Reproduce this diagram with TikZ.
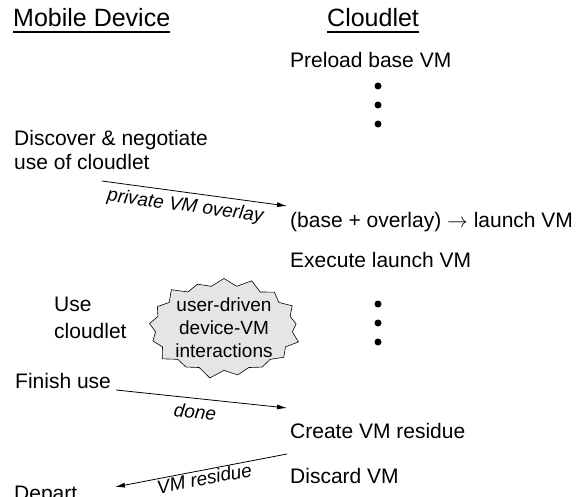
\documentclass[tikz,border=0pt]{standalone}
\usepackage{fontspec}
\setmainfont{Liberation Sans}
\usetikzlibrary{arrows.meta,shapes.symbols}

\begin{document}
\begin{tikzpicture}[x=1pt, y=-1pt,
		>={Latex[length=10pt, width=5pt]},
		head/.style={anchor=base west, inner sep=0pt, font=\fontsize{25}{30}\selectfont},
		txt/.style={anchor=base west, inner sep=0pt, align=left, font=\fontsize{21}{24}\selectfont},
		msg/.style={line width=0.8pt},
		lbl/.style={sloped, inner sep=0pt, font=\fontsize{19}{22}\selectfont\itshape},
		uline/.style={line width=2.2pt},
		burst/.style={starburst, starburst points=17, starburst point height=10pt,
			draw, line width=0.6pt, fill=black!10, inner sep=0pt, align=center,
			font=\fontsize{19}{23}\selectfont}]
		%%%%% START %%%%%
		\useasboundingbox (0, 0) rectangle (583, 497);
		
		\node[head] (md) at (13, 27) {Mobile Device};
		\node[head] (cl) at (327, 27) {Cloudlet};
		\draw[uline] ([yshift=-5pt]md.base west) -- ([yshift=-5pt]md.base east);
		\draw[uline] ([yshift=-5pt]cl.base west) -- ([yshift=-5pt]cl.base east);
		
		% multi-line nodes sit on their last baseline
		\node[txt] (preload) at (290, 68) {Preload base VM};
		\node[txt] (disc) at (14, 170) {Discover \& negotiate\\use of cloudlet};
		\node[txt] (launch) at (290, 227) {(base + overlay) $\rightarrow$ launch VM};
		\node[txt] (exec) at (290, 267) {Execute launch VM};
		\node[txt] (use) at (54, 338) {Use\\[2.5pt]cloudlet};
		\node[burst] (inter) at (224, 328) {user-driven\\device-VM\\interactions};
		\node[txt] (finish) at (15, 388) {Finish use};
		\node[txt] (create) at (290, 438) {Create VM residue};
		\node[txt] (discard) at (290, 483) {Discard VM};
		\node[txt] (depart) at (14, 500) {Depart};
		
		\foreach \y in {86, 105, 124, 304, 323, 342}
			\fill (378, \y) circle (3.5pt);
		
		\draw[msg, ->] ([shift={(88, 11)}]disc.base west) -- node[lbl, below=5pt, pos=0.46] {private VM overlay} ([shift={(-3, -21)}]launch.base west);
		\draw[msg, ->] ([shift={(5, 2)}]finish.base east) -- node[lbl, below=6pt, pos=0.47] {done} ([shift={(-3, -30)}]create.base west);
		\draw[msg, <-] ([shift={(101, -13)}]depart.base west) -- node[lbl, below=1pt, pos=0.51] {VM residue} ([shift={(-3, 16)}]create.base west);
		
		%%%%% END %%%%%
	\end{tikzpicture}
\end{document}
